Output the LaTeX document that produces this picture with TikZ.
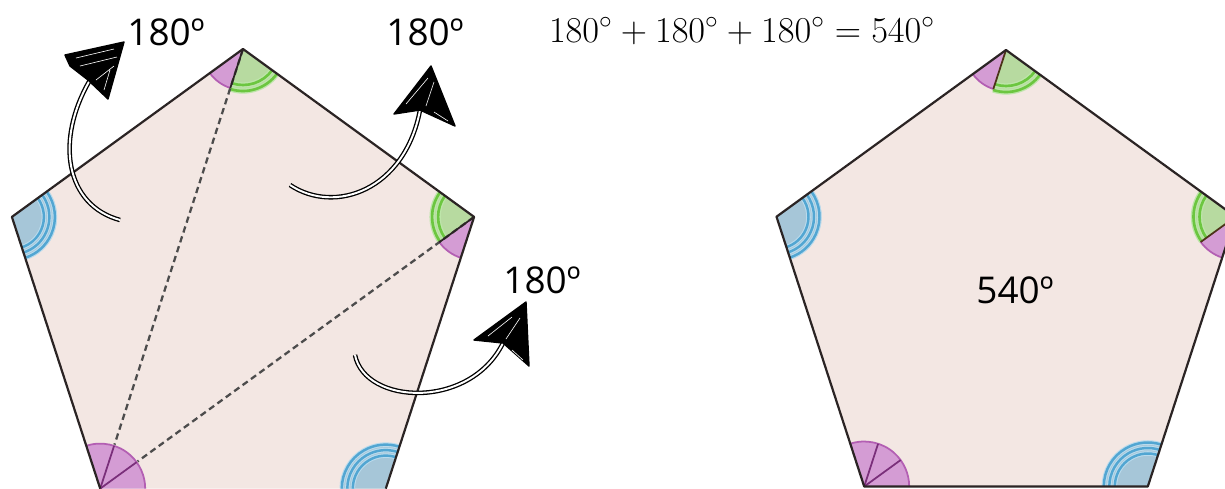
\documentclass[tikz,border=0pt]{standalone}
\usepackage{fontspec}
\newfontfamily\lblfont{Open Sans}
\usetikzlibrary{calc}
\definecolor{pfill}{HTML}{F3E7E3}
\definecolor{pedge}{HTML}{2B2424}
\definecolor{pinkf}{HTML}{D49CD4}
\definecolor{pinkl}{HTML}{B35FB3}
\definecolor{pinksep}{HTML}{7A2F7A}
\definecolor{greenf}{HTML}{B7DAA0}
\definecolor{greenl}{HTML}{6CC640}
\definecolor{bluef}{HTML}{A6C6D8}
\definecolor{bluel}{HTML}{52A6D2}
\tikzset{
  edge/.style={draw=pedge, line width=1.25pt, line join=round},
  diag/.style={draw=black!70, line width=1.3pt, dash pattern=on 3.6pt off 2.3pt},
  lbl/.style={font=\lblfont\fontsize{21}{25}\selectfont, text=black, inner sep=0pt},
  eqn/.style={font=\fontsize{21.6}{26}\selectfont, inner sep=0pt},
  arcg/.style={draw=greenl, line width=1.5pt},
  arcgglow/.style={draw=greenl!45, line width=3pt},
  arcb/.style={draw=bluel, line width=1.4pt},
  arcbglow/.style={draw=bluel!40, line width=2.6pt},
  arcp/.style={draw=pinkl, line width=1pt},
  sepl/.style={draw=pinksep, line width=1pt},
  shaft/.style={draw=black, line width=0.75pt, double=white, double distance=1.1pt},
  headfill/.style={fill=black, draw=black, line width=0.8pt, line join=round},
  scrib/.style={draw=white, line width=0.35pt},
}
% #1 style, #2 vertex, #3 start, #4 end, #5 radius
\newcommand\secfill[5]{\fill[#1] (#2) -- ($(#2)+(#3:#5)$) arc[start angle=#3,end angle=#4,radius=#5] -- cycle;}
\newcommand\secarc[5]{\draw[#1] ($(#2)+(#3:#5)$) arc[start angle=#3,end angle=#4,radius=#5];}
\newcommand\greenarcs[4]{\secarc{arcgglow}{#1}{#2}{#3}{#4}\secarc{arcg}{#1}{#2}{#3}{#4}%
  \pgfmathsetmacro\rin{#4-6}\secarc{arcgglow}{#1}{#2}{#3}{\rin}\secarc{arcg}{#1}{#2}{#3}{\rin}}
\newcommand\bluearcs[4]{\secarc{arcbglow}{#1}{#2}{#3}{#4}\secarc{arcb}{#1}{#2}{#3}{#4}%
  \pgfmathsetmacro\rin{#4-5.5}\secarc{arcbglow}{#1}{#2}{#3}{\rin}\secarc{arcb}{#1}{#2}{#3}{\rin}%
  \pgfmathsetmacro\rinn{#4-11}\secarc{arcbglow}{#1}{#2}{#3}{\rinn}\secarc{arcb}{#1}{#2}{#3}{\rinn}}
\newcommand\pentmarks[5]{%
  % #1 T, #2 L, #3 R, #4 BL, #5 BR
  \secfill{pinkf}{#1}{108}{144}{41}\secarc{arcp}{#1}{108}{144}{41}
  \secfill{greenf}{#1}{36}{108}{43}\greenarcs{#1}{36}{108}{42}
  \secfill{bluef}{#2}{-36}{72}{45}\bluearcs{#2}{-36}{72}{43}
  \secfill{greenf}{#3}{144}{216}{43}\greenarcs{#3}{144}{216}{42}
  \secfill{pinkf}{#3}{108}{144}{43}\secarc{arcp}{#3}{108}{144}{43}
  \secfill{pinkf}{#4}{-108}{0}{45}\secarc{arcp}{#4}{-108}{0}{45}
  \secfill{bluef}{#5}{180}{288}{45}\bluearcs{#5}{180}{288}{44}
  \draw[sepl] (#4) -- ($(#4)+(-72:45)$);
  \draw[sepl] (#4) -- ($(#4)+(-36:45)$);
}
\begin{document}
\begin{tikzpicture}[x=0.02cm,y=-0.02cm]
\clip (0,0) rectangle (1225,488);
\fill[white] (0,0) rectangle (1225,488);

% ---------- left pentagon ----------
\coordinate (T)  at (243,49);
\coordinate (L)  at (11.9,216.9);
\coordinate (R)  at (474.1,216.9);
\coordinate (BL) at (100.2,488.6);
\coordinate (BR) at (385.8,488.6);
\fill[pfill] (T) -- (R) -- (BR) -- (BL) -- (L) -- cycle;
\pentmarks{T}{L}{R}{BL}{BR}
\draw[diag] (T) -- ($(BL)!0.1!(T)$);
\draw[diag] (R) -- ($(BL)!0.1!(R)$);
\draw[pedge, line width=1pt] (T) -- ($(T)+(108:41)$);
\draw[pedge, line width=1pt] (R) -- ($(R)+(144:43)$);
\draw[edge] (BR) -- (R) -- (T) -- (L) -- (BL);

% ---------- right pentagon ----------
\coordinate (T2)  at (1006,50);
\coordinate (L2)  at (776.5,216.7);
\coordinate (R2)  at (1235.5,216.7);
\coordinate (BL2) at (864.2,486.5);
\coordinate (BR2) at (1147.8,486.5);
\fill[pfill] (T2) -- (R2) -- (BR2) -- (BL2) -- (L2) -- cycle;
\pentmarks{T2}{L2}{R2}{BL2}{BR2}
\draw[draw=black!60!brown, line width=1pt] (T2) -- ($(T2)+(108:41)$);
\draw[draw=black!60!brown, line width=1pt] (R2) -- ($(R2)+(144:43)$);
\draw[edge] (T2) -- (R2) -- (BR2) -- (BL2) -- (L2) -- cycle;

% ---------- labels ----------
\node[lbl] (a1) at (166,32) {180º};
\node[lbl] (a2) at (425,32) {180º};
\node[lbl] (a3) at (542,280) {180º};
\node[lbl] (sum) at (1015,290) {540º};
\node[eqn] (eq) at (742,31) {$180^\circ+180^\circ+180^\circ=540^\circ$};

% ---------- sketchy arrows ----------
% arrow 1
\coordinate (s1) at (120,220);
\coordinate (n1) at (90,80);
\draw[shaft] (s1) .. controls (65,205) and (55,140) .. (n1);
\filldraw[headfill] (124,42) -- (65,55) -- (70,66) -- (88,80) -- (108,99) -- cycle;
\draw[scrib] (76,58) -- (114,49) (80,66) -- (117,57) (96,80) -- (114,66) (104,90) -- (110,70);
% arrow 2
\coordinate (s2) at (290,185);
\coordinate (n2) at (420,110);
\draw[shaft] (s2) .. controls (335,215) and (405,190) .. (n2);
\filldraw[headfill] (431,66) -- (394,114) -- (420,110) -- (455,126) -- cycle;
\draw[scrib] (406,104) -- (428,78) (426,106) -- (434,82) (434,112) -- (448,121);
% arrow 3
\coordinate (s3) at (355,355);
\coordinate (n3) at (503,343);
\draw[shaft] (s3) .. controls (365,405) and (470,410) .. (n3);
\filldraw[headfill] (526,302) -- (474,340) -- (503,343) -- (529,366) -- cycle;
\draw[scrib] (488,336) -- (512,317) (506,339) -- (520,318) (512,350) -- (523,360);
\end{tikzpicture}
\end{document}
